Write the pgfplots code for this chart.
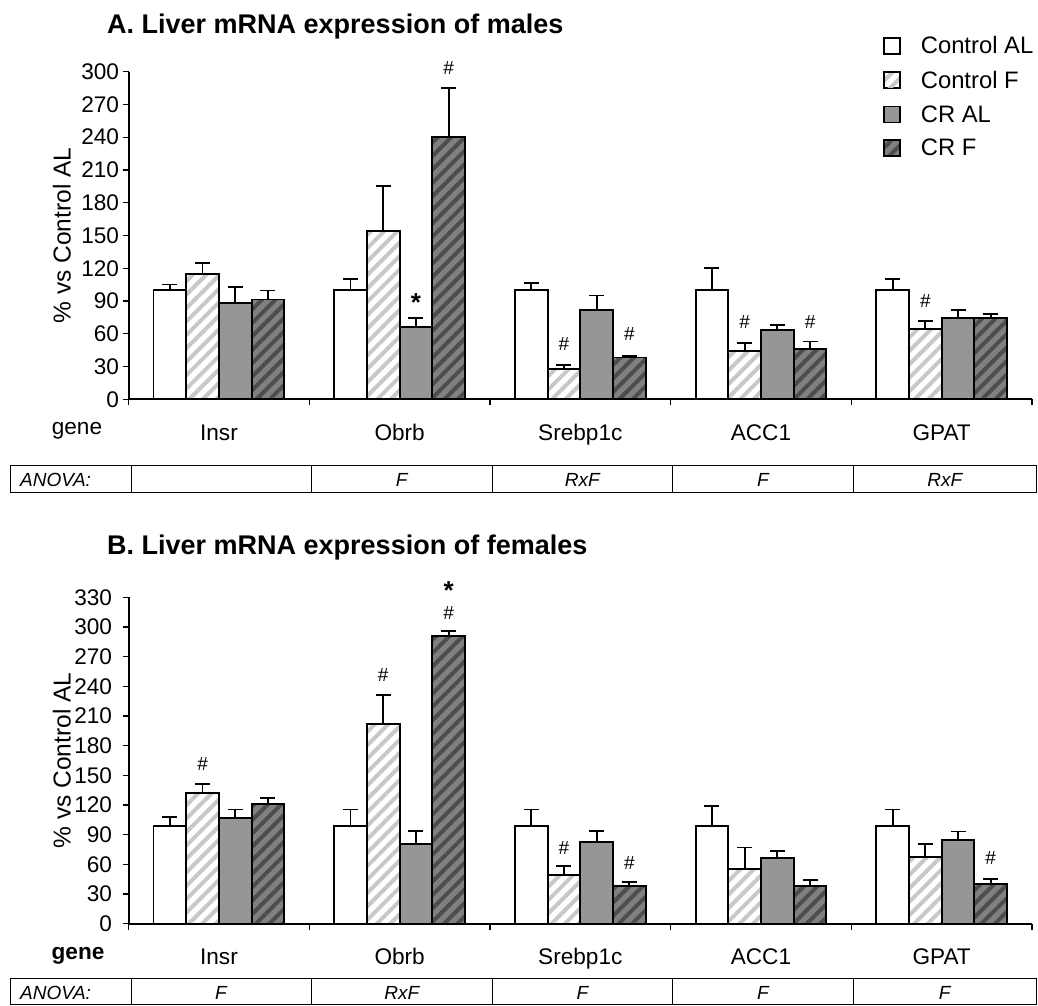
\documentclass[border=0pt]{standalone}
\usepackage{fontspec}
\setmainfont{Liberation Sans}
\usepackage{pgfplots}
\pgfplotsset{compat=1.18}
\usetikzlibrary{patterns.meta}
\definecolor{stripeL}{HTML}{C8C8C8}
\definecolor{gMid}{HTML}{969696}
\definecolor{gDark}{HTML}{808080}
\definecolor{stripeD}{HTML}{4D4D4D}
\newcommand\lab{\fontsize{22.6}{26}\selectfont}
\newcommand\ylab{\fontsize{24.5}{28}\selectfont}
\newcommand\leg{\fontsize{23.8}{27}\selectfont}
\newcommand\ttl{\fontsize{27}{31}\selectfont\bfseries}
\newcommand\anv{\fontsize{19}{22}\selectfont\itshape}
\newcommand\hs{\fontsize{19}{21}\selectfont}
\newcommand\st{\fontsize{26}{28}\selectfont\bfseries}
\tikzset{starnode/.style={font=\st, anchor=base, inner sep=0pt, text depth=-8pt, yshift=-15pt}}
\pgfplotsset{
  errs/.style={error bars/y dir=plus, error bars/y explicit,
    error bars/error mark=|,
    error bars/error bar style={line width=1.8pt, draw=black},
    error bars/error mark options={line width=1.8pt, draw=black, mark size=7.5pt}},
  leg/.style={legend image code/.code={\draw[##1, line width=1.6pt] (0pt,-8pt) rectangle (16pt,8pt);}},
  bb/.style={ybar, bar width=0.181, bar shift=0pt, draw=black, line width=1.9pt, errs},
  sCAL/.style={bb, fill=white, leg},
  sCF/.style={bb, preaction={fill=white}, pattern={Lines[angle=45,distance=9.5pt,line width=4pt]}, pattern color=stripeL, leg},
  sCRAL/.style={bb, fill=gMid, leg},
  sCRF/.style={bb, preaction={fill=gDark}, pattern={Lines[angle=45,distance=9.5pt,line width=4pt]}, pattern color=stripeD, leg},
  panel/.style={
    scale only axis, width=903.4pt, anchor=south west,
    xmin=-0.5, xmax=4.5, ymin=0,
    axis lines*=left, axis line style={line width=1.8pt},
    xtick={0,1,2,3,4}, xticklabels={Insr,Obrb,Srebp1c,ACC1,GPAT},
    minor xtick={-0.5,0.5,1.5,2.5,3.5,4.5},
    major x tick style={draw=none},
    major tick length=6pt, minor tick length=6pt,
    tick align=outside, tick style={black, line width=1.3pt},
    minor tick style={black, line width=1.3pt},
    xticklabel style={anchor=base, yshift=-35pt, font=\lab},
    yticklabel style={font=\lab},
    /pgf/number format/assume math mode=true,
    ylabel={\% vs Control AL},
    ylabel style={font=\ylab, at={(axis description cs:-0.074,0.5)}, anchor=center},
    clip=false,
  }
}
\begin{document}
\begin{tikzpicture}[x=1pt,y=1pt]
\useasboundingbox (0,0) rectangle (1038,1005);
% ---------- Panel A ----------
\begin{axis}[panel, at={(128.6pt,605.7pt)}, height=327.6pt, ymax=300,
  ytick={0,30,...,300},
  legend style={at={(axis description cs:0.8351,1.1074)}, anchor=north west, draw=none, fill=none,
    inner sep=0pt, row sep=15.6pt, column sep=20pt, font=\leg, nodes={inner sep=0pt}},
  legend cell align=left]
\addplot[sCAL] coordinates {(-0.2715,100) +- (0,5.2) (0.7285,100) +- (0,9.8) (1.7285,100) +- (0,6.7) (2.7285,100) +- (0,20) (3.7285,100) +- (0,9.8)};
\addlegendentry{Control AL}
\addplot[sCF] coordinates {(-0.0905,115) +- (0,10) (0.9095,154) +- (0,41) (1.9095,28) +- (0,3.3) (2.9095,44.5) +- (0,6.7) (3.9095,64.4) +- (0,7.1)};
\addlegendentry{Control F}
\addplot[sCRAL] coordinates {(0.0905,88.3) +- (0,14.7) (1.0905,66.3) +- (0,8.5) (2.0905,81.6) +- (0,13.4) (3.0905,63.2) +- (0,4.8) (4.0905,74.8) +- (0,6.8)};
\addlegendentry{CR AL}
\addplot[sCRF] coordinates {(0.2715,91.4) +- (0,8.3) (1.2715,240) +- (0,45) (2.2715,38.3) +- (0,1.6) (3.2715,46.3) +- (0,6.7) (4.2715,74.8) +- (0,3.4)};
\addlegendentry{CR F}
\node[starnode] at (axis cs:1.0905,94.5) {*};
\node[font=\hs, inner sep=0pt] at (axis cs:1.2715,303.6) {\#};
\node[font=\hs, inner sep=0pt] at (axis cs:1.9095,51) {\#};
\node[font=\hs, inner sep=0pt] at (axis cs:2.2715,60) {\#};
\node[font=\hs, inner sep=0pt] at (axis cs:2.9095,70.5) {\#};
\node[font=\hs, inner sep=0pt] at (axis cs:3.2715,70.5) {\#};
\node[font=\hs, inner sep=0pt] at (axis cs:3.9095,90) {\#};
\end{axis}
% ---------- Panel B ----------
\begin{axis}[panel, at={(128.6pt,81.3pt)}, height=326.4pt, ymax=330,
  ytick={0,30,...,330}, yticklabel style={xshift=-7pt}]
\addplot[sCAL] coordinates {(-0.2715,99) +- (0,9) (0.7285,99) +- (0,16.5) (1.7285,99) +- (0,16.5) (2.7285,99) +- (0,20) (3.7285,99) +- (0,16.5)};
\addplot[sCF] coordinates {(-0.0905,132.5) +- (0,8.7) (0.9095,202) +- (0,29) (1.9095,49.5) +- (0,9) (2.9095,55) +- (0,22) (3.9095,67.7) +- (0,13.2)};
\addplot[sCRAL] coordinates {(0.0905,106.5) +- (0,9) (1.0905,80.6) +- (0,12.8) (2.0905,82.6) +- (0,11) (3.0905,66) +- (0,7.5) (4.0905,84.3) +- (0,9)};
\addplot[sCRF] coordinates {(0.2715,121.3) +- (0,5.4) (1.2715,290.6) +- (0,5.5) (2.2715,38.4) +- (0,3.6) (3.2715,38.4) +- (0,5.7) (4.2715,40.1) +- (0,5.4)};
\node[font=\hs, inner sep=0pt] at (axis cs:-0.0905,161.5) {\#};
\node[font=\hs, inner sep=0pt] at (axis cs:0.9095,251) {\#};
\node[font=\hs, inner sep=0pt] at (axis cs:1.2715,314) {\#};
\node[starnode] at (axis cs:1.2715,343) {*};
\node[font=\hs, inner sep=0pt] at (axis cs:1.9095,77) {\#};
\node[font=\hs, inner sep=0pt] at (axis cs:2.2715,61) {\#};
\node[font=\hs, inner sep=0pt] at (axis cs:4.2715,66) {\#};
\end{axis}
% ---------- titles & labels ----------
\node[anchor=base west, font=\ttl, inner sep=0pt] at (107,971.7) {A. Liver mRNA expression of males};
\node[anchor=base west, font=\ttl, inner sep=0pt] at (107,450) {B. Liver mRNA expression of females};
\node[anchor=base, font=\lab, inner sep=0pt] at (77,570.7) {gene};
\node[anchor=base, font=\lab\bfseries, inner sep=0pt] at (78,45.7) {gene};
% ---------- ANOVA tables ----------
\draw[line width=1pt] (10,512) rectangle (1036,539);
\foreach \xx in {131.5,311.3,492,672.7,853.4} {\draw[line width=1pt] (\xx,512) -- (\xx,539);}
\node[anchor=base west, font=\anv, inner sep=0pt] at (20,518) {ANOVA:};
\node[anchor=base, font=\anv, inner sep=0pt] at (401.7,518) {F};
\node[anchor=base, font=\anv, inner sep=0pt] at (582.4,518) {RxF};
\node[anchor=base, font=\anv, inner sep=0pt] at (763,518) {F};
\node[anchor=base, font=\anv, inner sep=0pt] at (944.7,518) {RxF};
\draw[line width=1pt] (10,1) rectangle (1036,27);
\foreach \xx in {131.5,311.3,492,672.7,853.4} {\draw[line width=1pt] (\xx,1) -- (\xx,27);}
\node[anchor=base west, font=\anv, inner sep=0pt] at (20,6) {ANOVA:};
\node[anchor=base, font=\anv, inner sep=0pt] at (221,6) {F};
\node[anchor=base, font=\anv, inner sep=0pt] at (401.7,6) {RxF};
\node[anchor=base, font=\anv, inner sep=0pt] at (582.4,6) {F};
\node[anchor=base, font=\anv, inner sep=0pt] at (763,6) {F};
\node[anchor=base, font=\anv, inner sep=0pt] at (944.7,6) {F};
\end{tikzpicture}
\end{document}
